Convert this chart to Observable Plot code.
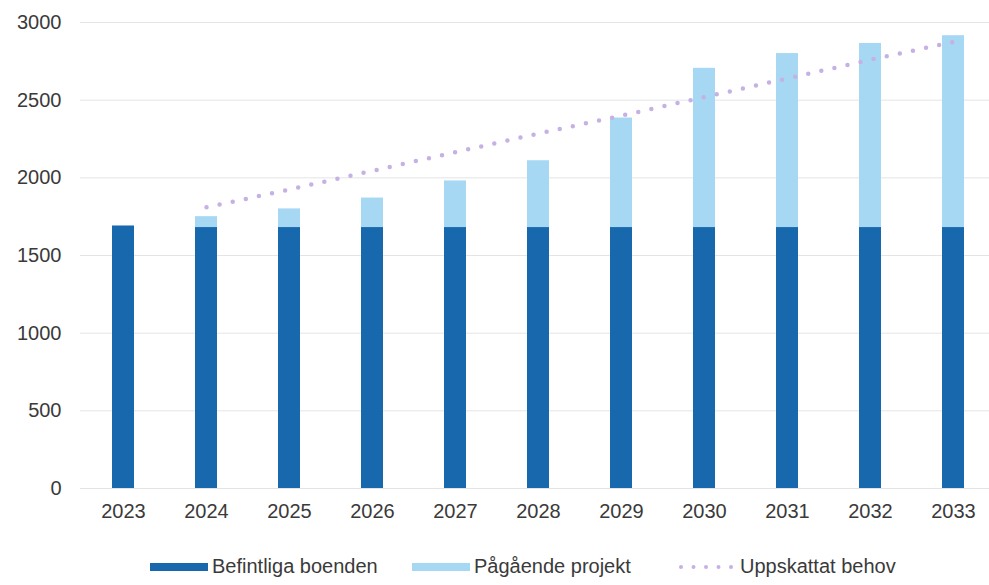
<!DOCTYPE html>
<html>
<head>
<meta charset="utf-8">
<script src="https://cdn.jsdelivr.net/npm/d3@7"></script>
<script src="https://cdn.jsdelivr.net/npm/@observablehq/plot@0.6"></script>
<style>
  body { margin: 0; background: #fff; font-family: "Liberation Sans", Arial, sans-serif; }
  #chart svg { display: block; }
  .legend { position: relative; height: 37px; width: 989px; font-size: 20px; color: #3a3a3a; }
  .item { position: absolute; top: 0; height: 37px; display: flex; align-items: center; }
  .sw { width: 58px; height: 8px; margin-right: 4px; }
  .dots { width: 58px; height: 6px; margin-right: 4px; }
  .dots svg { display: block; }
</style>
</head>
<body>
<div id="chart"></div>
<div class="legend" id="legend"></div>
<script>
const years = ["2023","2024","2025","2026","2027","2028","2029","2030","2031","2032","2033"];
const befintliga = [1690, 1680, 1680, 1680, 1680, 1680, 1680, 1680, 1680, 1680, 1680];
const pagaende = [0, 70, 120, 190, 300, 430, 705, 1025, 1120, 1185, 1235];
const behovYears = ["2024","2025","2026","2027","2028","2029","2030","2031","2032","2033"];
const behov = [1810, 1925, 2045, 2165, 2285, 2400, 2520, 2640, 2760, 2875];
const yTicks = [0, 500, 1000, 1500, 2000, 2500, 3000];
const seriesNames = ["Befintliga boenden", "Pågående projekt", "Uppskattat behov"];
const colors = ["#1768ac", "#a6d8f4", "#c6b1e4"];

const bars = [];
years.forEach((y, i) => {
  bars.push({year: y, series: seriesNames[0], value: befintliga[i]});
  bars.push({year: y, series: seriesNames[1], value: pagaende[i]});
});
const line = behovYears.map((y, i) => ({year: y, value: behov[i]}));

const chart = Plot.plot({
  width: 989,
  height: 548,
  marginLeft: 80,
  marginRight: 0,
  marginTop: 22,
  marginBottom: 60,
  style: {fontFamily: "'Liberation Sans', Arial, sans-serif", fontSize: "20px", color: "#3a3a3a", background: "#fff"},
  x: {domain: years, type: "band", paddingInner: 0.736, paddingOuter: 0.324, align: 0.556, label: null},
  y: {domain: [0, 3000], label: null},
  color: {domain: seriesNames.slice(0, 2), range: colors.slice(0, 2)},
  marks: [
    Plot.ruleY(yTicks, {stroke: "#e4e4e4", strokeWidth: 1}),
    Plot.barY(bars, {x: "year", y: "value", fill: "series", order: seriesNames.slice(0, 2)}),
    Plot.line(line, {x: "year", y: "value", stroke: colors[2], strokeWidth: 4.5, strokeDasharray: "0 13.4", strokeLinecap: "round"}),
    Plot.axisX({tickSize: 0, tickPadding: 15, fontSize: 20, label: null}),
    Plot.axisY({ticks: yTicks, tickFormat: d3.format("d"), tickSize: 0, tickPadding: 19, fontSize: 20, label: null})
  ]
});
document.getElementById("chart").appendChild(chart);

const legend = document.getElementById("legend");
const lefts = [150, 412, 678];
seriesNames.forEach((name, i) => {
  const item = document.createElement("div");
  item.className = "item";
  item.style.left = lefts[i] + "px";
  const sw = document.createElement("div");
  if (i < 2) {
    sw.className = "sw";
    sw.style.background = colors[i];
  } else {
    sw.className = "dots";
    sw.innerHTML = '<svg width="58" height="6"><line x1="3" y1="3" x2="56" y2="3" stroke="' + colors[2] + '" stroke-width="4" stroke-linecap="round" stroke-dasharray="0 12.5"/></svg>';
  }
  const t = document.createElement("span");
  t.textContent = name;
  item.appendChild(sw);
  item.appendChild(t);
  legend.appendChild(item);
});
</script>
</body>
</html>
